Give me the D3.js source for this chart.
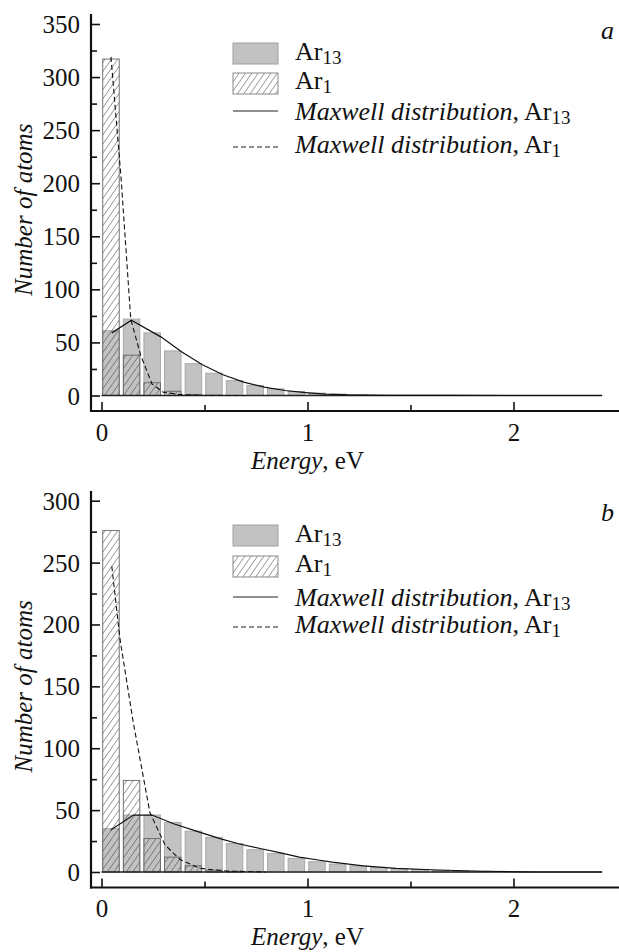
<!DOCTYPE html>
<html>
<head>
<meta charset="utf-8">
<script src="https://cdn.jsdelivr.net/npm/d3@7"></script>
<style>
html,body{margin:0;padding:0;background:#fff;}
svg{display:block;}
text{font-family:"Liberation Serif","Tinos","Times New Roman","DejaVu Serif",serif;fill:#111;}
</style>
</head>
<body>
<svg id="chart" width="619" height="952"></svg>
<script>
// ---------- DATA ----------
// bin starts (eV), 0.1 eV bins
const binStartsA = [0,0.1,0.2,0.3,0.4,0.5,0.6,0.7,0.8,0.9,1.0,1.1,1.2];
const ar13A = [61,72,59,42,30,21,14,9.5,6.3,3.8,2.2,1.3,0.7];
const ar1A  = [317,38,12,4,1,0.3,0,0,0,0,0,0,0];
const maxAr13EA = [0.05,0.145,0.29,0.39,0.49,0.59,0.69,0.79,0.89,0.99,1.09,1.2,1.4,1.7,2.0,2.43];
const maxAr13VA = [59,71,55,41,29,19.5,12.6,7.9,4.7,2.8,1.3,0.5,0.15,0.05,0,0];
const maxAr1EA  = [0.046,0.095,0.142,0.19,0.245,0.3,0.4,0.5,0.7];
const maxAr1VA  = [319,205,72,38,11,3,0.5,0,0];

const binStartsB = [0,0.1,0.2,0.3,0.4,0.5,0.6,0.7,0.8,0.9,1.0,1.1,1.2,1.3,1.4,1.5,1.6,1.7,1.8];
const ar13B = [35,46,46,40,33,28,23,18,15,11,8.3,6.4,5,3.7,2.7,2,1.4,1,0.6];
const ar1B  = [276,74,27,12,5,1.5,0.5,0,0,0,0,0,0,0,0,0,0,0,0];
const maxAr13EB = [0.045,0.155,0.245,0.35,0.46,0.575,0.67,0.77,0.87,0.96,1.06,1.12,1.27,1.43,1.63,1.85,2.1,2.43];
const maxAr13VB = [34,46,46,39,33,27,22.6,19,15.5,12,9.5,8,5,3,1.6,0.6,0,0];
const maxAr1EB  = [0.05,0.09,0.153,0.235,0.308,0.381,0.478,0.6,0.8];
const maxAr1VB  = [247,188,122,48,22,10,3,0.8,0];

const yTicksA = [0,50,100,150,200,250,300,350];
const yTicksB = [0,50,100,150,200,250,300];
const xTicks = [0,1,2];
const xMinor = [0.5,1.5];
const xLabel = "Energy";
const xUnit = ", eV";
const yLabel = "Number of atoms";
const legendItems = [["", "Ar","13"],["","Ar","1"],["Maxwell distribution",", Ar","13"],["Maxwell distribution",", Ar","1"]];

// ---------- DRAW ----------
const FONT = '"Liberation Serif","Tinos","Times New Roman","DejaVu Serif",serif';
const svg = d3.select("#chart");
const defs = svg.append("defs");
const pat = defs.append("pattern").attr("id","hatch").attr("patternUnits","userSpaceOnUse")
  .attr("width",5.2).attr("height",10).attr("patternTransform","rotate(35)");
pat.append("line").attr("x1",0).attr("y1",0).attr("x2",0).attr("y2",10)
  .attr("stroke","#333").attr("stroke-width",0.9);

const GRAY = "#c2c2c2";
const FS = 25;

function panel(cfg){
  const g = svg.append("g");
  const x = d3.scaleLinear().domain([0,2]).range([101.5,513.5]);
  const y = d3.scaleLinear().domain([0,cfg.yMax]).range([cfg.y0,cfg.yTop]);
  const axisX = 91, axisY = cfg.axisY;
  const bw = x(0.08)-x(0);
  const off = 0.006;

  // gray bars (Ar13)
  g.append("g").selectAll("rect").data(cfg.ar13.map((v,i)=>({e:cfg.bins[i],v})).filter(d=>d.v>0))
    .join("rect")
    .attr("x",d=>x(d.e+off)).attr("width",bw)
    .attr("y",d=>y(d.v)).attr("height",d=>y(0)-y(d.v))
    .attr("fill",GRAY).attr("stroke","#a9a9a9").attr("stroke-width",1);
  // hatched bars (Ar1)
  g.append("g").selectAll("rect").data(cfg.ar1.map((v,i)=>({e:cfg.bins[i],v})).filter(d=>d.v>0))
    .join("rect")
    .attr("x",d=>x(d.e+off)).attr("width",bw)
    .attr("y",d=>y(d.v)).attr("height",d=>y(0)-y(d.v))
    .attr("fill","url(#hatch)").attr("stroke","#666").attr("stroke-width",0.9);

  // zero baseline
  g.append("line").attr("x1",x(0)).attr("x2",x(2.43)).attr("y1",y(0)).attr("y2",y(0))
    .attr("stroke","#222").attr("stroke-width",1.6);

  const line = d3.line().x(d=>x(d[0])).y(d=>y(d[1]));
  g.append("path").datum(cfg.mE13.map((e,i)=>[e,cfg.mV13[i]]))
    .attr("d",line).attr("fill","none").attr("stroke","#111").attr("stroke-width",1.2);
  g.append("path").datum(cfg.mE1.map((e,i)=>[e,cfg.mV1[i]]))
    .attr("d",line).attr("fill","none").attr("stroke","#111").attr("stroke-width",1.1)
    .attr("stroke-dasharray","5,3");

  // y axis
  const ya = g.append("g").attr("transform",`translate(${axisX},0)`)
    .call(d3.axisLeft(y).tickValues(cfg.yTicks).tickFormat(d3.format("d")).tickSize(-9).tickPadding(11).tickSizeOuter(0));
  ya.select(".domain").remove();
  ya.attr("font-family",null).attr("font-size",null);
  ya.selectAll("text").style("font-family",FONT).style("font-size",FS+"px").attr("dy","0.34em");
  const yminor = g.append("g").attr("transform",`translate(${axisX},0)`)
    .call(d3.axisLeft(y).tickValues(cfg.yTicks.slice(0,-1).map(t=>t+25)).tickSize(-6).tickFormat(""));
  yminor.select(".domain").remove();
  g.selectAll(".tick line").attr("stroke","#111").attr("stroke-width",1.6);
  g.append("line").attr("x1",axisX).attr("x2",axisX).attr("y1",cfg.axisTop).attr("y2",axisY+1)
    .attr("stroke","#111").attr("stroke-width",2.2);

  // x axis
  const xa = g.append("g").attr("transform",`translate(0,${axisY})`)
    .call(d3.axisBottom(x).tickValues(xTicks).tickFormat(d3.format("d")).tickSize(-9).tickPadding(12).tickSizeOuter(0));
  xa.select(".domain").remove();
  xa.attr("font-family",null).attr("font-size",null);
  xa.selectAll("text").style("font-family",FONT).style("font-size",FS+"px");
  xa.selectAll(".tick line").attr("stroke","#111").attr("stroke-width",1.6);
  const xm = g.append("g").attr("transform",`translate(0,${axisY})`)
    .call(d3.axisBottom(x).tickValues(xMinor).tickSize(-6).tickFormat(""));
  xm.select(".domain").remove();
  xm.selectAll(".tick line").attr("stroke","#111").attr("stroke-width",1.6);
  g.append("line").attr("x1",axisX-1).attr("x2",619).attr("y1",axisY).attr("y2",axisY)
    .attr("stroke","#111").attr("stroke-width",2.2);

  // axis titles
  const xt = g.append("text").attr("x",x(1)).attr("y",cfg.xTitleY).attr("text-anchor","middle")
    .style("font-size",FS+"px");
  xt.append("tspan").attr("font-style","italic").text(xLabel);
  xt.append("tspan").text(xUnit);
  g.append("text").attr("transform",`translate(32,${(y(0)+y(cfg.yMax))/2}) rotate(-90)`)
    .attr("text-anchor","middle").style("font-size",FS+"px").attr("font-style","italic").text(yLabel);

  // panel letter
  g.append("text").attr("x",614).attr("y",cfg.letterY).attr("text-anchor","end")
    .style("font-size",(FS+1)+"px").attr("font-style","italic").text(cfg.letter);

  // legend
  const lg = g.append("g").attr("transform",`translate(233,${cfg.legY})`);
  const rowsY = cfg.legRows;
  lg.append("rect").attr("x",0).attr("y",rowsY[0]-11).attr("width",45).attr("height",21)
    .attr("fill",GRAY).attr("stroke","#a0a0a0");
  lg.append("rect").attr("x",0).attr("y",rowsY[1]-11).attr("width",45).attr("height",21)
    .attr("fill","url(#hatch)").attr("stroke","#888");
  lg.append("line").attr("x1",0).attr("x2",45).attr("y1",rowsY[2]).attr("y2",rowsY[2])
    .attr("stroke","#222").attr("stroke-width",1.1);
  lg.append("line").attr("x1",0).attr("x2",45).attr("y1",rowsY[3]).attr("y2",rowsY[3])
    .attr("stroke","#222").attr("stroke-width",1.1).attr("stroke-dasharray","5,3");
  const textOff = [6,5,9,6];
  legendItems.forEach((d,i)=>{
    const t = lg.append("text").attr("x",62).attr("y",rowsY[i]+textOff[i]).style("font-size",(FS+1)+"px");
    if(d[0]) t.append("tspan").attr("font-style","italic").text(d[0]);
    t.append("tspan").text(d[1]);
    t.append("tspan").style("font-size",(FS-6)+"px").attr("dy",4).text(d[2]);
  });
}

panel({bins:binStartsA, ar13:ar13A, ar1:ar1A, mE13:maxAr13EA, mV13:maxAr13VA, mE1:maxAr1EA, mV1:maxAr1VA,
  yMax:350, y0:395.5, yTop:24, axisY:411, axisTop:14, yTicks:yTicksA, xTitleY:469, letter:"a", letterY:39,
  legY:54, legRows:[0,30,57,93]});
panel({bins:binStartsB, ar13:ar13B, ar1:ar1B, mE13:maxAr13EB, mV13:maxAr13VB, mE1:maxAr1EB, mV1:maxAr1VB,
  yMax:300, y0:872, yTop:500.7, axisY:887.5, axisTop:491, yTicks:yTicksB, xTitleY:945, letter:"b", letterY:521,
  legY:536, legRows:[0,31,61,91]});
</script>
</body>
</html>
